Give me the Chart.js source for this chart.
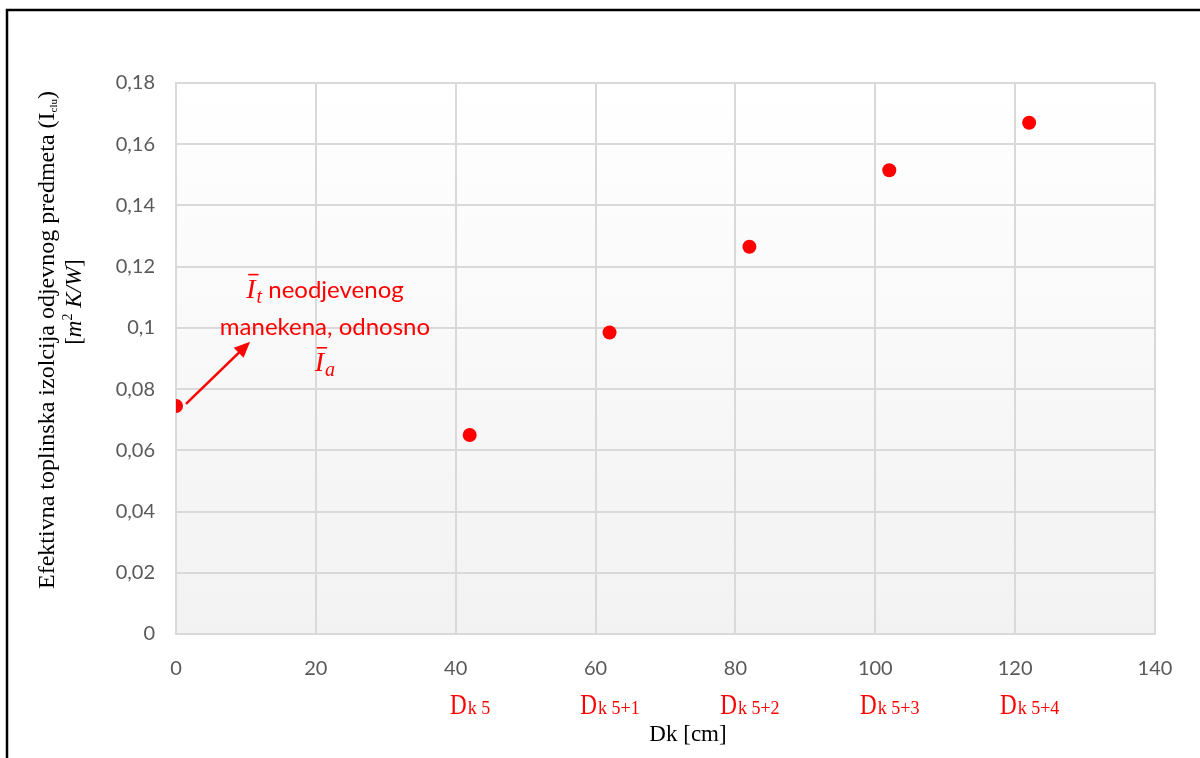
<!DOCTYPE html>
<html>
<head>
<meta charset="utf-8">
<script src="https://cdn.jsdelivr.net/npm/chart.js@4/dist/chart.umd.min.js"></script>
<style>
  html, body { margin: 0; padding: 0; background: #fff; }
</style>
</head>
<body>
<canvas id="myChart" width="1200" height="758"></canvas>
<script>
// Dk [cm] and effective clothing insulation
const dkValues = [0, 42, 62, 82, 102, 122];
const icluValues = [0.0745, 0.065, 0.0985, 0.1265, 0.1515, 0.167];
// subscript of the red "D" label under each point (none for the first one)
const pointLabels = [null, 'k 5', 'k 5+1', 'k 5+2', 'k 5+3', 'k 5+4'];

const xTickLabels = ['0', '20', '40', '60', '80', '100', '120', '140'];
const yTickLabels = ['0', '0,02', '0,04', '0,06', '0,08', '0,1', '0,12', '0,14', '0,16', '0,18'];

const RED = '#ff0000';
const SERIF = '"Liberation Serif", "Times New Roman", serif';
const SANS = 'Lato, "Noto Sans", sans-serif';

// draws pieces [{t, font, dy}] one after another, centred on cx
function drawRun(ctx, pieces, cx, y) {
  let total = 0;
  pieces.forEach(p => { ctx.font = p.font; p.w = ctx.measureText(p.t).width + (p.gap || 0); total += p.w; });
  let x = cx - total / 2;
  pieces.forEach(p => {
    ctx.font = p.font;
    ctx.fillText(p.t, x, y + (p.dy || 0));
    if (p.bar) {
      ctx.save();
      ctx.strokeStyle = ctx.fillStyle;
      ctx.lineWidth = 1.6;
      ctx.beginPath();
      ctx.moveTo(x + 2, y - p.bar);
      ctx.lineTo(x + p.w + 2, y - p.bar);
      ctx.stroke();
      ctx.restore();
    }
    x += p.w;
  });
}

const decor = {
  id: 'decor',
  beforeDraw(chart) {
    const { ctx, chartArea: a } = chart;
    ctx.save();
    ctx.fillStyle = '#fff';
    ctx.fillRect(0, 0, chart.width, chart.height);
    // outer frame (left + top)
    ctx.strokeStyle = '#000';
    ctx.lineWidth = 2.5;
    ctx.beginPath();
    ctx.moveTo(7, chart.height);
    ctx.lineTo(7, 10);
    ctx.lineTo(chart.width, 10);
    ctx.stroke();
    // plot area gradient
    const g = ctx.createLinearGradient(0, a.top, 0, a.bottom);
    g.addColorStop(0, '#ffffff');
    g.addColorStop(1, '#f2f2f2');
    ctx.fillStyle = g;
    ctx.fillRect(a.left, a.top, a.right - a.left, a.bottom - a.top);
    ctx.restore();
  },
  afterDraw(chart) {
    const { ctx } = chart;
    const xs = chart.scales.x, ys = chart.scales.y;
    ctx.save();

    // y axis title, two rotated lines
    ctx.fillStyle = '#000';
    ctx.textBaseline = 'alphabetic';
    ctx.save();
    ctx.translate(46, 340);
    ctx.rotate(-Math.PI / 2);
    drawRun(ctx, [
      { t: 'Efektivna toplinska izolcija odjevnog predmeta (I', font: '24px ' + SERIF },
      { t: 'clu', font: '11px ' + SERIF, dy: 3 },
      { t: ')', font: '24px ' + SERIF }
    ], 0, 8);
    ctx.restore();
    ctx.save();
    ctx.translate(73, 302);
    ctx.rotate(-Math.PI / 2);
    drawRun(ctx, [
      { t: '[', font: '23px ' + SERIF },
      { t: 'm', font: 'italic 23px ' + SERIF },
      { t: '2', font: '14px ' + SERIF, dy: -9 },
      { t: ' K/W', font: 'italic 23px ' + SERIF },
      { t: ']', font: '23px ' + SERIF }
    ], 0, 8);
    ctx.restore();

    // red D labels under the points
    ctx.fillStyle = RED;
    dkValues.forEach((v, i) => {
      const sub = pointLabels[i];
      if (!sub) return;
      const cx = xs.getPixelForValue(v);
      ctx.font = '29px ' + SERIF;
      const dw = ctx.measureText('D').width * 0.8;
      ctx.font = '18px ' + SERIF;
      const sw = ctx.measureText(sub).width;
      const x0 = cx - (dw + sw) / 2;
      ctx.save();
      ctx.translate(x0, 714);
      ctx.scale(0.8, 1);
      ctx.font = '29px ' + SERIF;
      ctx.fillText('D', 0, 0);
      ctx.restore();
      ctx.font = '18px ' + SERIF;
      ctx.fillText(sub, x0 + dw + 1, 714);
    });

    // x axis title
    ctx.fillStyle = '#000';
    ctx.font = '23px ' + SERIF;
    ctx.textAlign = 'center';
    ctx.fillText('Dk [cm]', 688, 741);
    ctx.textAlign = 'left';

    // annotation arrow from the first point
    const sx = xs.getPixelForValue(dkValues[0]) + 10, sy = ys.getPixelForValue(icluValues[0]) - 2;
    const ex = xs.getPixelForValue(10.6), ey = ys.getPixelForValue(0.0955);
    const ang = Math.atan2(ey - sy, ex - sx);
    ctx.strokeStyle = RED;
    ctx.fillStyle = RED;
    ctx.lineWidth = 2.5;
    ctx.beginPath();
    ctx.moveTo(sx, sy);
    ctx.lineTo(ex - 12 * Math.cos(ang), ey - 12 * Math.sin(ang));
    ctx.stroke();
    ctx.beginPath();
    ctx.moveTo(ex, ey);
    ctx.lineTo(ex - 16 * Math.cos(ang) + 7 * Math.sin(ang), ey - 16 * Math.sin(ang) - 7 * Math.cos(ang));
    ctx.lineTo(ex - 16 * Math.cos(ang) - 7 * Math.sin(ang), ey - 16 * Math.sin(ang) + 7 * Math.cos(ang));
    ctx.closePath();
    ctx.fill();

    // annotation text
    const tx = xs.getPixelForValue(21.3);
    drawRun(ctx, [
      { t: 'I', font: 'italic 28px ' + SERIF, bar: 23, gap: 1 },
      { t: 't', font: 'italic 20px ' + SERIF, dy: 5 },
      { t: ' neodjevenog', font: '24px ' + SANS }
    ], tx, ys.getPixelForValue(0.1125) + 8);
    drawRun(ctx, [{ t: 'manekena, odnosno', font: '24px ' + SANS }], tx, ys.getPixelForValue(0.1004) + 8);
    drawRun(ctx, [
      { t: 'I', font: 'italic 28px ' + SERIF, bar: 23, gap: 1 },
      { t: 'a', font: 'italic 20px ' + SERIF, dy: 5 }
    ], tx, ys.getPixelForValue(0.0886) + 8);

    ctx.restore();
  }
};

const gridColor = '#d9d9d9';

new Chart(document.getElementById('myChart'), {
  type: 'scatter',
  data: {
    datasets: [{
      label: 'Icl',
      data: dkValues.map((x, i) => ({ x: x, y: icluValues[i] })),
      backgroundColor: RED,
      borderWidth: 0,
      pointRadius: 7,
      pointHoverRadius: 7
    }]
  },
  options: {
    responsive: false,
    animation: false,
    devicePixelRatio: 1,
    layout: { padding: { top: 83, right: 45, left: 0, bottom: 0 } },
    plugins: { legend: { display: false }, tooltip: { enabled: false } },
    scales: {
      x: {
        type: 'linear',
        min: 0,
        max: 140,
        afterFit: s => { s.height = 124; },
        grid: { color: gridColor, lineWidth: 2, drawTicks: false },
        border: { color: gridColor, width: 2 },
        ticks: {
          stepSize: 20,
          padding: 23,
          color: '#595959',
          font: { family: 'Lato', size: 20 },
          callback: v => xTickLabels[Math.round(v / 20)]
        }
      },
      y: {
        min: 0,
        max: 0.18,
        afterFit: s => { s.width = 176; },
        grid: { color: gridColor, lineWidth: 2, drawTicks: false },
        border: { color: gridColor, width: 2 },
        ticks: {
          stepSize: 0.02,
          padding: 21,
          color: '#595959',
          font: { family: 'Lato', size: 20 },
          callback: v => yTickLabels[Math.round(v / 0.02)]
        }
      }
    }
  },
  plugins: [decor]
});
</script>
</body>
</html>
